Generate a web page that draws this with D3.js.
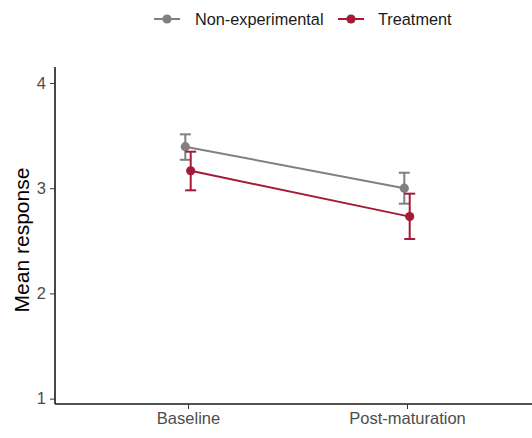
<!DOCTYPE html>
<html>
<head>
<meta charset="utf-8">
<script src="https://cdn.jsdelivr.net/npm/d3@7"></script>
<style>
  html, body { margin: 0; padding: 0; background: #fff; }
  svg { display: block; font-family: "Liberation Sans", Arial, sans-serif; }
</style>
</head>
<body>
<svg id="chart" width="532" height="438"></svg>
<script>
// Timepoints on the x axis
const timepoints = ["Baseline", "Post-maturation"];
// Groups, drawn in this order
const groups = ["Non-experimental", "Treatment"];
const groupColors = ["#808080", "#A31B38"];
// Mean response per group at each timepoint
const meansNonExp = [3.395, 3.00];
const meansTreat = [3.166, 2.73];
// Error bar limits
const lowerNonExp = [3.27, 2.853];
const upperNonExp = [3.512, 3.147];
const lowerTreat = [2.98, 2.517];
const upperTreat = [3.347, 2.948];
// Y axis ticks
const yTicks = [1, 2, 3, 4];

const series = [
  { name: groups[0], color: groupColors[0], mean: meansNonExp, lo: lowerNonExp, hi: upperNonExp, dodge: -1 },
  { name: groups[1], color: groupColors[1], mean: meansTreat, lo: lowerTreat, hi: upperTreat, dodge: 1 }
];

const svg = d3.select("#chart");
const plotLeft = 55, plotRight = 532, plotTop = 67, plotBottom = 404;

const y = d3.scaleLinear().domain([0.949, 4.152]).range([plotBottom, plotTop]);
const x = d3.scalePoint().domain(timepoints).range([188, 407]);
const dodgePx = 2.7;

// Y axis
const yAxis = svg.append("g").attr("transform", `translate(${plotLeft},0)`)
  .call(d3.axisLeft(y).tickValues(yTicks).tickSize(5).tickPadding(4).tickFormat(d3.format("d")));
yAxis.select(".domain").attr("d", `M0,${plotTop}V${plotBottom}`).attr("stroke", "#1a1a1a").attr("stroke-width", 1.6);
yAxis.selectAll(".tick line").attr("stroke", "#333").attr("stroke-width", 1);
yAxis.selectAll(".tick text").attr("fill", "#4d4d4d").style("font-size", "16.5px");

// X axis
const xAxis = svg.append("g").attr("transform", `translate(0,${plotBottom})`)
  .call(d3.axisBottom(x).tickSize(5).tickPadding(3));
xAxis.select(".domain").attr("d", `M${plotLeft},0H${plotRight}`).attr("stroke", "#1a1a1a").attr("stroke-width", 1.6);
xAxis.selectAll(".tick line").attr("stroke", "#333").attr("stroke-width", 1);
xAxis.selectAll(".tick text").attr("fill", "#4d4d4d").style("font-size", "16.5px");

// Y axis title
svg.append("text")
  .attr("transform", `translate(29,240) rotate(-90)`)
  .attr("text-anchor", "middle")
  .attr("fill", "#000")
  .style("font-size", "21px")
  .text("Mean response");

// Series: lines, error bars, points
const capHalf = 5.5;
series.forEach(s => {
  const px = i => x(timepoints[i]) + s.dodge * dodgePx;
  const g = svg.append("g");
  g.append("path")
    .datum(s.mean)
    .attr("fill", "none")
    .attr("stroke", s.color)
    .attr("stroke-width", 2)
    .attr("d", d3.line().x((d, i) => px(i)).y(d => y(d)));
  s.mean.forEach((m, i) => {
    const cx = px(i);
    g.append("line").attr("x1", cx).attr("x2", cx).attr("y1", y(s.lo[i])).attr("y2", y(s.hi[i]))
      .attr("stroke", s.color).attr("stroke-width", 2);
    [s.lo[i], s.hi[i]].forEach(v => {
      g.append("line").attr("x1", cx - capHalf).attr("x2", cx + capHalf).attr("y1", y(v)).attr("y2", y(v))
        .attr("stroke", s.color).attr("stroke-width", 2);
    });
    g.append("circle").attr("cx", cx).attr("cy", y(m)).attr("r", 4.6).attr("fill", s.color);
  });
});

// Legend
const legend = svg.append("g");
const legendItems = [
  { name: groups[0], color: groupColors[0], x0: 154, tx: 195 },
  { name: groups[1], color: groupColors[1], x0: 338, tx: 378 }
];
legendItems.forEach(it => {
  legend.append("line").attr("x1", it.x0).attr("x2", it.x0 + 26).attr("y1", 19).attr("y2", 19)
    .attr("stroke", it.color).attr("stroke-width", 2);
  legend.append("circle").attr("cx", it.x0 + 13).attr("cy", 19).attr("r", 4.6).attr("fill", it.color);
  legend.append("text").attr("x", it.tx).attr("y", 25).attr("fill", "#1a1a1a")
    .style("font-size", "16.3px").text(it.name);
});
</script>
</body>
</html>
